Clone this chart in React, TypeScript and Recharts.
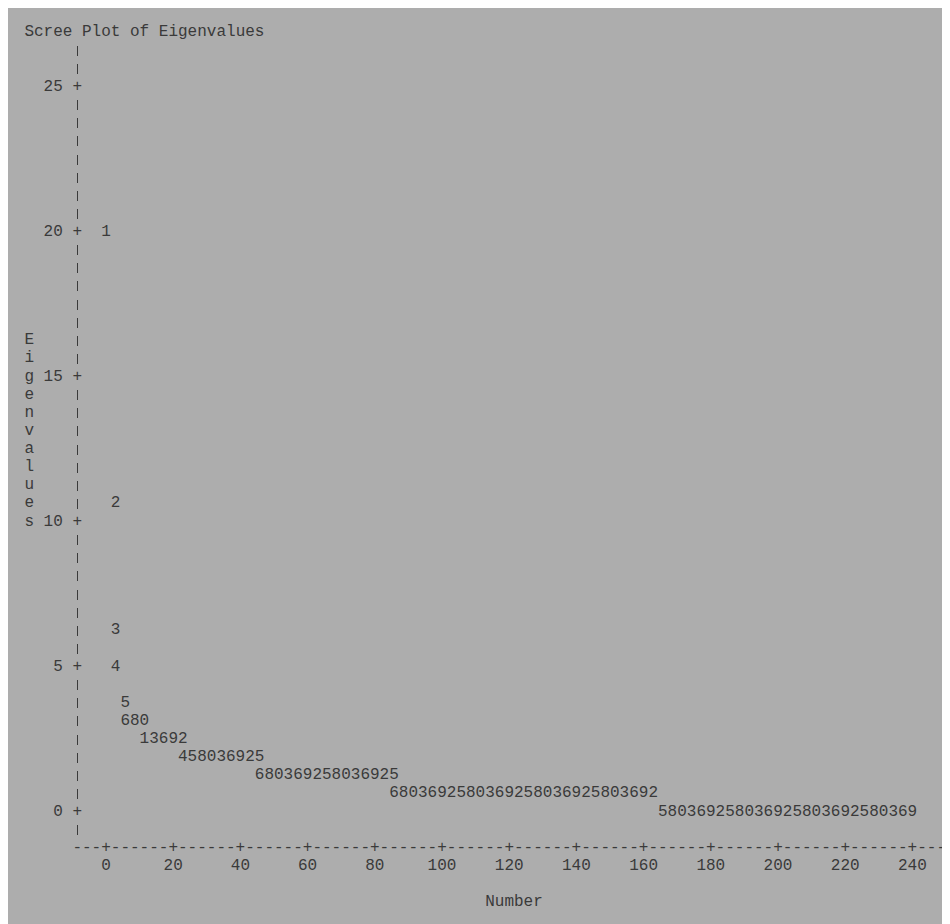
import React from 'react';
import { ScatterChart, Scatter, XAxis, YAxis } from 'recharts';

// Eigenvalue index (only the indices whose digit is visible in the printer plot)
const numbers = [
  1, 2, 3, 4, 5,
  6, 8, 10,
  11, 13, 16, 19, 22,
  24, 25, 28, 30, 33, 36, 39, 42, 45,
  46, 48, 50, 53, 56, 59, 62, 65, 68, 70, 73, 76, 79, 82, 85,
  86, 88, 90, 93, 96, 99, 102, 105, 108, 110, 113, 116, 119, 122, 125, 128, 130, 133, 136, 139, 142, 145, 148, 150, 153, 156, 159, 162,
  165, 168, 170, 173, 176, 179, 182, 185, 188, 190, 193, 196, 199, 202, 205, 208, 210, 213, 216, 219, 222, 225, 228, 230, 233, 236, 239,
];

const eigenvalues = [
  20.0, 10.6, 6.3, 5.0, 3.8,
  3.3, 3.05, 2.85,
  2.75, 2.6, 2.45, 2.32, 2.22,
  2.15, 2.1, 2.0, 1.93, 1.86, 1.79, 1.72, 1.66, 1.58,
  1.55, 1.5, 1.46, 1.42, 1.38, 1.34, 1.3, 1.26, 1.22, 1.18, 1.13, 1.09, 1.05, 1.0, 0.96,
  0.93, 0.9, 0.88, 0.86, 0.84, 0.81, 0.79, 0.76, 0.74, 0.72, 0.69, 0.67, 0.65, 0.62, 0.6, 0.58, 0.56, 0.53, 0.51, 0.49, 0.47, 0.45, 0.43, 0.41, 0.39, 0.37, 0.35, 0.33,
  0.3, 0.29, 0.27, 0.26, 0.25, 0.23, 0.22, 0.21, 0.2, 0.18, 0.17, 0.16, 0.15, 0.14, 0.13, 0.12, 0.1, 0.09, 0.08, 0.07, 0.06, 0.05, 0.04, 0.03, 0.02, 0.01, 0.0,
];

const xTickValues = [0, 20, 40, 60, 80, 100, 120, 140, 160, 180, 200, 220, 240];
const yTickLabels = [0, 5, 10, 15, 20, 25];

const title = 'Scree Plot of Eigenvalues';
const xTitle = 'Number';
const yTitle = 'Eigenvalues';

const data = numbers.map((n, i) => ({ number: n, value: eigenvalues[i] }));

// line-printer grid
const CHAR_W = 9.6;
const X_UNITS_PER_COL = 20 / 7;
const Y_UNITS_PER_ROW = 5 / 8;
const X_DOMAIN: [number, number] = [-3 * X_UNITS_PER_COL, 87 * X_UNITS_PER_COL];
const Y_DOMAIN: [number, number] = [-2 * Y_UNITS_PER_ROW, 43 * Y_UNITS_PER_ROW];
const PX_PER_X = CHAR_W / X_UNITS_PER_COL; // 3.36
const PX_PER_Y = 29;

const yTickValues = Array.from({ length: 45 }, (_, i) => (i - 1) * Y_UNITS_PER_ROW);

const FONT = "'Liberation Mono', 'Courier New', monospace";
const INK = '#3a3a3a';
const BG = '#adadad';

const T = (p: any) => (
  <text fontFamily={FONT} fontSize={16} fill={INK} dy="0.35em" {...p} />
);

const Bar = ({ x, y }: any) => (
  <line x1={x} x2={x} y1={y - 3} y2={y + 7} stroke={INK} strokeWidth={1} shapeRendering="crispEdges" />
);

const DigitShape = (props: any) => {
  const { cx, cy, payload } = props;
  if (cx == null || cy == null) return null;
  const n = payload.number;
  const v = payload.value;
  const col = Math.round((n * 7) / 20);
  const row = Math.round(v / Y_UNITS_PER_ROW);
  const x = cx + (col * X_UNITS_PER_COL - n) * PX_PER_X;
  const y = cy - (row * Y_UNITS_PER_ROW - v) * PX_PER_Y;
  return (
    <T x={x} y={y} textAnchor="middle">
      {String(n % 10)}
    </T>
  );
};

const XTick = (props: any) => {
  const { x, y, payload } = props;
  const v = payload.value;
  const last = v === xTickValues[xTickValues.length - 1];
  return (
    <g>
      {v === xTickValues[0] && (
        <T x={x - 3 * CHAR_W - CHAR_W / 2} y={y} textAnchor="start">---</T>
      )}
      <T x={x} y={y} textAnchor="middle">+</T>
      <T x={x + CHAR_W / 2} y={y} textAnchor="start">{last ? '---' : '------'}</T>
      <T x={x} y={y + 18.125} textAnchor="middle">{String(v)}</T>
      {v === 120 && (
        <T x={x - 2 * CHAR_W - CHAR_W / 2} y={y + 3 * 18.125} textAnchor="start">{xTitle}</T>
      )}
    </g>
  );
};

const YTick = (props: any) => {
  const { x, y, payload } = props;
  const row = Math.round(payload.value / Y_UNITS_PER_ROW);
  if (row >= 43) {
    return (
      <T x={x - 5 * CHAR_W - CHAR_W / 2} y={y} textAnchor="start">{title}</T>
    );
  }
  const isMajor = row % 8 === 0 && row >= 0;
  const letterIdx = 26 - row;
  return (
    <g>
      {isMajor ? <T x={x} y={y} textAnchor="middle">+</T> : <Bar x={Math.round(x) + 0.5} y={y} />}
      {isMajor && (
        <T x={x - CHAR_W - CHAR_W / 2} y={y} textAnchor="end">
          {String(yTickLabels[row / 8])}
        </T>
      )}
      {letterIdx >= 0 && letterIdx < yTitle.length && (
        <T x={x - 5 * CHAR_W} y={y} textAnchor="middle">{yTitle[letterIdx]}</T>
      )}
    </g>
  );
};

export default function App() {
  return (
    <div style={{ width: 942, height: 918, background: BG, marginTop: -2 }}>
      <style>{'html,body{overflow:hidden}'}</style>
      <ScatterChart
        width={942}
        height={918}
        margin={{ top: 24.625, right: 8.8, left: 0, bottom: 0 }}
      >
        <XAxis
          type="number"
          dataKey="number"
          domain={X_DOMAIN}
          ticks={xTickValues}
          interval={0}
          tickSize={0}
          tickMargin={0}
          axisLine={false}
          tickLine={false}
          height={77.75}
          tick={<XTick />}
        />
        <YAxis
          type="number"
          dataKey="value"
          domain={Y_DOMAIN}
          ticks={yTickValues}
          interval={0}
          tickSize={0}
          tickMargin={0}
          axisLine={false}
          tickLine={false}
          width={69.2}
          tick={<YTick />}
        />
        <Scatter data={data} isAnimationActive={false} shape={<DigitShape />} />
      </ScatterChart>
    </div>
  );
}
